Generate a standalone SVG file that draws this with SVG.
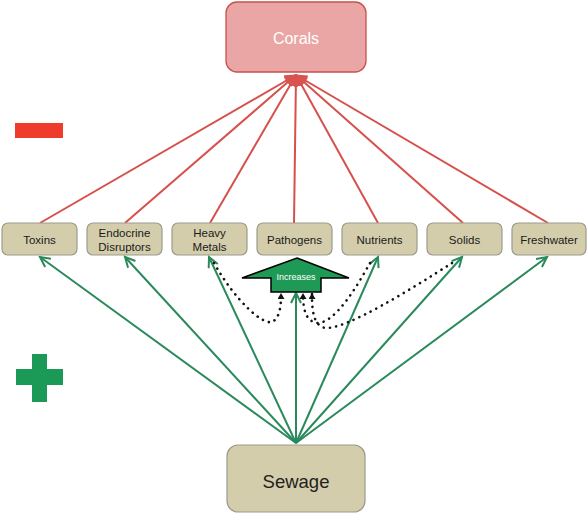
<svg xmlns="http://www.w3.org/2000/svg" width="588" height="517" viewBox="0 0 588 517">
<style>
.node{fill:#d4cdab;stroke:#9c9c8c;stroke-width:1.2}
.lbl{font-family:"Liberation Sans",Arial,sans-serif;font-size:11.5px;fill:#1a1a1a;text-anchor:middle}
.red{stroke:#d6504c;stroke-width:2;fill:none;marker-end:url(#ra)}
.grn{stroke:#2a8a5c;stroke-width:2;fill:none;marker-end:url(#ga)}
.dot{stroke:#111;stroke-width:2.6;stroke-linecap:round;stroke-dasharray:0.1 6.2;fill:none;marker-end:url(#ka)}
</style>
<defs>
<marker id="ra" markerUnits="userSpaceOnUse" markerWidth="14" markerHeight="14" refX="11" refY="6" orient="auto">
<path d="M0,0 L12,6 L0,12 z" fill="#d9534f"/>
</marker>
<marker id="ga" markerUnits="userSpaceOnUse" markerWidth="14" markerHeight="14" refX="11" refY="6" orient="auto">
<path d="M1,1 L11,6 L1,11" fill="none" stroke="#2a8a5c" stroke-width="2"/>
</marker>
<marker id="ka" markerUnits="userSpaceOnUse" markerWidth="8" markerHeight="8" refX="5" refY="3.5" orient="auto">
<path d="M0,0 L6,3.5 L0,7 z" fill="#111"/>
</marker>
</defs>
<rect x="15" y="123" width="48" height="15" fill="#ee3b2c"/>
<path d="M32,354 H47 V369 H63 V385 H47 V402 H32 V385 H16 V369 H32 Z" fill="#1b9a57"/>
<g id="connectors">
<line class="red" x1="40" y1="223" x2="296" y2="75"/>
<line class="red" x1="125" y1="223" x2="296" y2="75"/>
<line class="red" x1="210" y1="223" x2="296" y2="75"/>
<line class="red" x1="294" y1="223" x2="296" y2="75"/>
<line class="red" x1="378" y1="223" x2="296" y2="75"/>
<line class="red" x1="463" y1="223" x2="296" y2="75"/>
<line class="red" x1="548" y1="223" x2="296" y2="75"/>
<line class="grn" x1="296" y1="443" x2="40" y2="257"/>
<line class="grn" x1="296" y1="443" x2="125" y2="257"/>
<line class="grn" x1="296" y1="443" x2="209" y2="257"/>
<line class="grn" x1="296" y1="443" x2="296" y2="293"/>
<line class="grn" x1="296" y1="443" x2="378" y2="257"/>
<line class="grn" x1="296" y1="443" x2="462" y2="257"/>
<line class="grn" x1="296" y1="443" x2="547" y2="257"/>
<path class="dot" d="M214,263 C235,300 262,325 272,322 C280,318 281,306 281,294"/>
<path class="dot" d="M370,263 C355,290 335,322 318,323 C306,322 303,310 303,294"/>
<path class="dot" d="M452,263 C410,290 345,330 325,328 C313,325 312,310 312,294"/>
</g>
<g id="corals">
<rect x="226" y="2" width="140" height="70" rx="11" fill="#e9a6a4" stroke="#c8514e" stroke-width="1.3"/>
<text x="296" y="44" font-family="Liberation Sans,Arial,sans-serif" font-size="16" fill="#fff" text-anchor="middle">Corals</text>
</g>
<g id="toxins"><rect class="node" x="2" y="223" width="75" height="32" rx="6"/><text class="lbl" x="39.5" y="244">Toxins</text></g>
<g id="endocrine"><rect class="node" x="87" y="223" width="75" height="32" rx="6"/><text class="lbl" x="124.5" y="237">Endocrine</text><text class="lbl" x="124.5" y="251">Disruptors</text></g>
<g id="heavymetals"><rect class="node" x="172" y="223" width="75" height="32" rx="6"/><text class="lbl" x="209.5" y="237">Heavy</text><text class="lbl" x="209.5" y="251">Metals</text></g>
<g id="pathogens"><rect class="node" x="257" y="223" width="75" height="32" rx="6"/><text class="lbl" x="294.5" y="244">Pathogens</text></g>
<g id="nutrients"><rect class="node" x="342" y="223" width="75" height="32" rx="6"/><text class="lbl" x="379.5" y="244">Nutrients</text></g>
<g id="solids"><rect class="node" x="427" y="223" width="75" height="32" rx="6"/><text class="lbl" x="464.5" y="244">Solids</text></g>
<g id="freshwater"><rect class="node" x="512" y="223" width="74" height="32" rx="6"/><text class="lbl" x="549" y="244">Freshwater</text></g>
<g id="increases">
<path d="M297,258 L349,278 L321,278 L321,292 L271,292 L271,278 L242,278 Z" fill="#1f9a56" stroke="#000" stroke-width="1.5" stroke-linejoin="miter"/>
<text x="296" y="280" font-family="Liberation Sans,Arial,sans-serif" font-size="9" fill="#fff" text-anchor="middle">Increases</text>
</g>
<g id="sewage">
<rect class="node" x="227" y="445" width="138" height="67" rx="11"/>
<text x="296" y="488" font-family="Liberation Sans,Arial,sans-serif" font-size="18.5" fill="#222" text-anchor="middle">Sewage</text>
</g>
</svg>
